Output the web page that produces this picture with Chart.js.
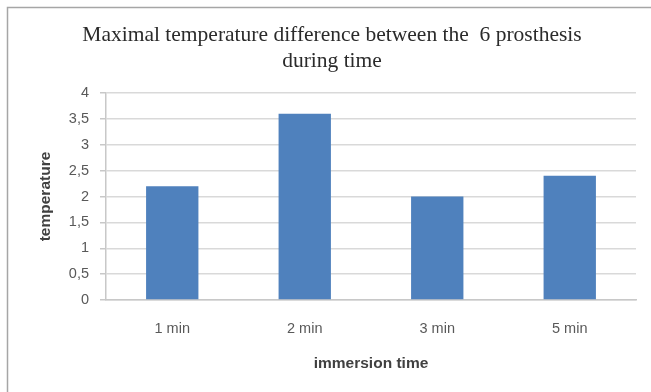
<!DOCTYPE html>
<html>
<head>
<meta charset="utf-8">
<script src="https://cdn.jsdelivr.net/npm/chart.js@4/dist/chart.umd.min.js"></script>
<style>
  html, body { margin: 0; padding: 0; background: #ffffff; }
  #wrap { position: relative; width: 651px; height: 392px; }
  canvas { display: block; }
</style>
</head>
<body>
<div id="wrap"><canvas id="c" width="651" height="392"></canvas></div>
<script>
const categories = ['1 min', '2 min', '3 min', '5 min'];
const values = [2.2, 3.6, 2.0, 2.4];
const yTickLabels = ['0', '0,5', '1', '1,5', '2', '2,5', '3', '3,5', '4'];
const titleLines = ['Maximal temperature difference between the  6 prosthesis', 'during time'];
const xTitle = 'immersion time';
const yTitle = 'temperature';

const framePlugin = {
  id: 'frame',
  beforeDraw(chart) {
    const ctx = chart.ctx;
    ctx.save();
    ctx.fillStyle = '#ffffff';
    ctx.fillRect(0, 0, chart.width, chart.height);
    ctx.strokeStyle = '#a6a6a6';
    ctx.lineWidth = 1.5;
    ctx.beginPath();
    ctx.moveTo(7.5, chart.height + 5);
    ctx.lineTo(7.5, 7.5);
    ctx.lineTo(chart.width + 5, 7.5);
    ctx.stroke();
    ctx.restore();
  },
  afterDraw(chart) {
    const ctx = chart.ctx;
    ctx.save();
    ctx.fillStyle = '#2b2b2b';
    ctx.font = '21.5px "Liberation Serif", "Times New Roman", serif';
    ctx.textAlign = 'center';
    ctx.textBaseline = 'middle';
    titleLines.forEach((t, i) => ctx.fillText(t, 332, 35 + i * 26));
    ctx.restore();
  }
};

new Chart(document.getElementById('c'), {
  type: 'bar',
  data: {
    labels: categories,
    datasets: [{
      data: values,
      backgroundColor: '#4f81bd',
      borderWidth: 0,
      categoryPercentage: 1,
      barPercentage: 0.395
    }]
  },
  options: {
    responsive: false,
    animation: false,
    devicePixelRatio: 1,
    layout: { padding: { left: 8, right: 15, top: 93, bottom: 0 } },
    plugins: {
      legend: { display: false },
      tooltip: { enabled: false },
      title: { display: false }
    },
    scales: {
      x: {
        grid: { display: false, drawTicks: false },
        border: { display: true, color: '#c8c8c8', width: 1.5 },
        ticks: {
          color: '#595959',
          font: { family: '"Liberation Sans", Arial, sans-serif', size: 14.5 },
          padding: 20,
          maxRotation: 0
        },
        title: {
          display: true,
          text: xTitle,
          color: '#404040',
          font: { family: '"Liberation Sans", Arial, sans-serif', size: 15.5, weight: 'bold' },
          padding: { top: 0, bottom: 18.7 }
        },
        afterFit(scale) { scale.height = 92; }
      },
      y: {
        min: 0,
        max: 4,
        ticks: {
          stepSize: 0.5,
          color: '#595959',
          font: { family: '"Liberation Sans", Arial, sans-serif', size: 14.5 },
          padding: 11,
          callback: (v, i) => yTickLabels[i]
        },
        grid: { color: '#d9d9d9', lineWidth: 1.5, drawTicks: true, tickLength: 6, tickColor: '#c8c8c8' },
        border: { display: true, color: '#c8c8c8', width: 1.5 },
        title: {
          display: true,
          text: yTitle,
          color: '#404040',
          font: { family: '"Liberation Sans", Arial, sans-serif', size: 15.5, weight: 'bold' },
          padding: { top: 28, bottom: 0 }
        },
        afterFit(scale) { scale.width = 98; }
      }
    }
  },
  plugins: [framePlugin]
});
</script>
</body>
</html>
